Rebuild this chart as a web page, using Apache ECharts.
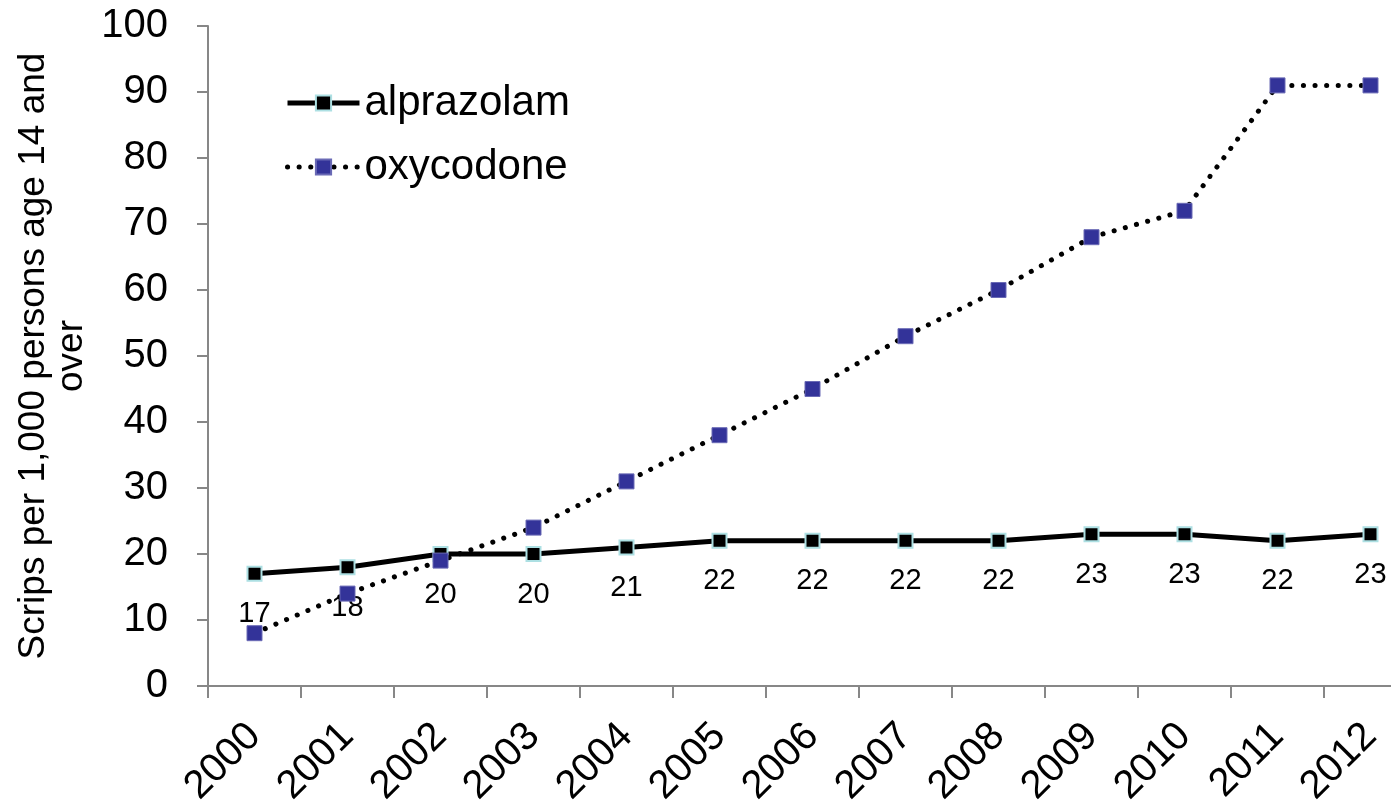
<!DOCTYPE html>
<html>
<head>
<meta charset="utf-8">
<script src="https://cdn.jsdelivr.net/npm/echarts@6/dist/echarts.min.js"></script>
<style>html,body{margin:0;padding:0;background:#fff}#c{width:1391px;height:807px}</style>
</head>
<body>
<div id="c"></div>
<script>
const years = ['2000','2001','2002','2003','2004','2005','2006','2007','2008','2009','2010','2011','2012'];
const alprazolam = [17,18,20,20,21,22,22,22,22,23,23,22,23];
const oxycodone = [8,14,19,24,31,38,45,53,60,68,72,91,91];
const yTitle = 'Scrips per 1,000 persons age 14 and\nover';
const FONT = '"Liberation Sans", Arial, sans-serif';

const chart = echarts.init(document.getElementById('c'), null, {renderer: 'canvas'});
chart.setOption({
  animation: false,
  backgroundColor: '#ffffff',
  textStyle: {fontFamily: FONT, color: '#000'},
  grid: {left: 208, top: 26, width: 1209, bottom: 121, containLabel: false, outerBoundsMode: 'none'},
  legend: {
    orient: 'vertical', left: 285, top: 82, padding: 0,
    itemWidth: 72, itemHeight: 19, itemGap: 22,
    lineStyle: {width: 5},
    textStyle: {fontFamily: FONT, fontSize: 42, color: '#000', lineHeight: 40},
    data: ['alprazolam', 'oxycodone']
  },
  xAxis: {
    type: 'category', data: years, boundaryGap: true,
    axisLine: {lineStyle: {color: '#878787', width: 2}},
    axisTick: {show: true, length: 12, lineStyle: {color: '#878787', width: 2}},
    axisLabel: {rotate: 45, margin: 44, fontSize: 40, color: '#000', fontFamily: FONT, interval: 0, padding: [28, 0, 0, 0]},
    splitLine: {show: false}
  },
  yAxis: {
    type: 'value', min: 0, max: 100, interval: 10,
    name: yTitle, nameLocation: 'middle', nameGap: 103,
    nameTextStyle: {fontSize: 37, color: '#000', fontFamily: FONT, lineHeight: 38, align: 'center'},
    axisLine: {show: true, lineStyle: {color: '#878787', width: 2}},
    axisTick: {show: true, length: 11, lineStyle: {color: '#878787', width: 2}},
    axisLabel: {margin: 40, fontSize: 40, color: '#000', fontFamily: FONT},
    splitLine: {show: false}
  },
  series: [
    {
      name: 'alprazolam', type: 'line', data: alprazolam,
      symbol: 'rect', symbolSize: 14,
      lineStyle: {color: '#000', width: 5},
      itemStyle: {color: '#000', borderColor: '#ade0e3', borderWidth: 2},
      label: {show: true, position: 'bottom', distance: 18, fontSize: 29, color: '#000', fontFamily: FONT},
      z: 2
    },
    {
      name: 'oxycodone', type: 'line', data: oxycodone,
      symbol: 'rect', symbolSize: 15,
      lineStyle: {color: '#000', width: 5, type: [0.1, 11.5], cap: 'round'},
      itemStyle: {color: '#333399', borderColor: '#6a6ab5', borderWidth: 1},
      z: 3
    }
  ]
});
</script>
</body>
</html>
